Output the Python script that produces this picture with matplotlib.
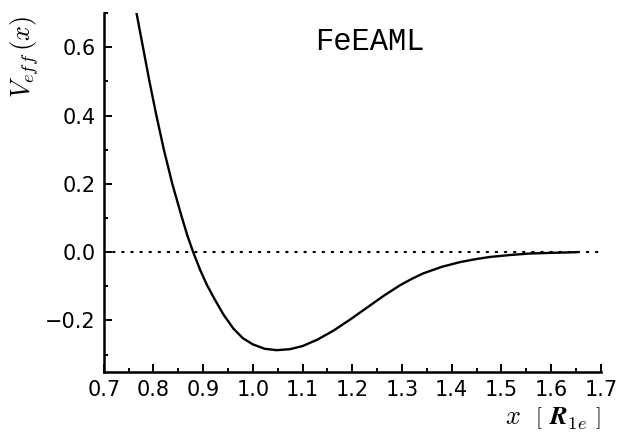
import matplotlib
matplotlib.use("Agg")
import matplotlib.pyplot as plt
from matplotlib.ticker import MultipleLocator, FuncFormatter

# values
x_vals = [0.766, 0.779, 0.792, 0.806, 0.821, 0.838, 0.857, 0.868, 0.880,
          0.894, 0.908, 0.924, 0.941, 0.961, 0.980, 1.000, 1.024, 1.048,
          1.075, 1.100, 1.130, 1.162, 1.196, 1.230, 1.263, 1.296, 1.320,
          1.343, 1.380, 1.417, 1.450, 1.477, 1.520, 1.557, 1.600, 1.652]
v_eff = [0.70, 0.60, 0.50, 0.40, 0.30, 0.20, 0.103, 0.05, 0.0,
         -0.052, -0.097, -0.140, -0.183, -0.224, -0.252, -0.270, -0.283, -0.287,
         -0.284, -0.275, -0.256, -0.230, -0.197, -0.162, -0.128, -0.097, -0.078,
         -0.062, -0.043, -0.029, -0.020, -0.014, -0.008, -0.004, -0.002, 0.0]

label_name = "FeEAML"

plt.rcParams['mathtext.fontset'] = 'cm'
plt.rcParams['font.family'] = 'DejaVu Sans'

fig = plt.figure(figsize=(6.2, 4.38), dpi=100)
ax = fig.add_axes([0.1673, 0.1514, 0.8017, 0.8186])

ax.plot(x_vals, v_eff, color='black', lw=1.7, solid_joinstyle='round')
ax.axhline(0.0, color='black', lw=1.6, ls=(0, (0.6, 3.5)), dash_capstyle='round')

ax.set_xlim(0.7, 1.7)
ax.set_ylim(-0.35, 0.7)

ax.spines['top'].set_visible(False)
ax.spines['right'].set_visible(False)
for s in ['left', 'bottom']:
    ax.spines[s].set_linewidth(1.8)

fmt = FuncFormatter(lambda v, p: ('%.1f' % v).replace('-', '\u2212'))
ax.xaxis.set_major_locator(MultipleLocator(0.1))
ax.xaxis.set_minor_locator(MultipleLocator(0.05))
ax.yaxis.set_major_locator(MultipleLocator(0.2))
ax.yaxis.set_minor_locator(MultipleLocator(0.1))
ax.xaxis.set_major_formatter(fmt)
ax.yaxis.set_major_formatter(fmt)
ax.tick_params(which='both', direction='in', top=False, right=False,
               labelsize=15, width=1.4, pad=6)
ax.tick_params(which='major', length=6)
ax.tick_params(which='minor', length=3)

ax.text(0.536, 0.919, label_name, transform=ax.transAxes, fontsize=22,
        family='Liberation Mono', ha='center', va='center')

fig.text(0.04, 0.87, r'$V_{eff}\,(x)$', rotation=90, fontsize=19,
         ha='center', va='center')
fig.text(0.968, 0.045, r'$x\ \ \left[\ \mathbfit{R}_{1e}\ \right]$', fontsize=19,
         ha='right', va='center')

fig.savefig("out.png", dpi=100)
